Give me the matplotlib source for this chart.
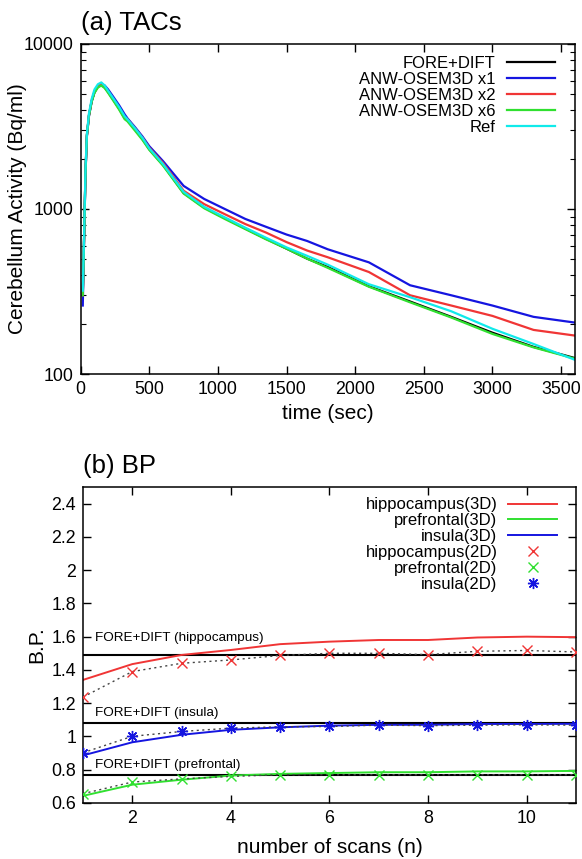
import numpy as np
import matplotlib
matplotlib.use("Agg")
import matplotlib.pyplot as plt
from matplotlib.lines import Line2D
from matplotlib.ticker import FixedLocator, FixedFormatter, NullFormatter, LogLocator

plt.rcParams["font.family"] = ["Liberation Sans", "DejaVu Sans"]

# ---- (a) TACs data ----
t_sec = [15, 25, 35, 45, 60, 80, 100, 125, 150, 175, 200, 240, 280, 320, 340,
         400, 450, 500, 600, 750, 900, 1050, 1200, 1350, 1500, 1650, 1800,
         2100, 2400, 2700, 3000, 3300, 3600]
tac_fore_dift = [300, 700, 1700, 2800, 3700, 4500, 5100, 5500, 5650, 5450, 5100,
                 4550, 4050, 3550, 3450, 3000, 2650, 2300, 1850, 1250, 1020, 880,
                 760, 660, 575, 500, 445, 340, 275, 222, 178, 146, 125]
tac_osem_x1 = [260, 680, 1650, 2750, 3650, 4500, 5100, 5550, 5750, 5600, 5300,
               4750, 4250, 3750, 3550, 3100, 2750, 2400, 1950, 1380, 1150, 1000,
               870, 780, 700, 640, 570, 475, 345, 300, 260, 222, 205]
tac_osem_x2 = [300, 700, 1700, 2800, 3700, 4550, 5150, 5550, 5700, 5500, 5150,
               4600, 4100, 3600, 3500, 3050, 2700, 2350, 1900, 1290, 1070, 930,
               810, 720, 630, 560, 510, 415, 300, 260, 225, 185, 171]
tac_osem_x6 = [300, 690, 1680, 2780, 3680, 4480, 5050, 5450, 5600, 5400, 5050,
               4500, 4000, 3500, 3400, 2950, 2620, 2280, 1830, 1240, 1010, 870,
               755, 655, 575, 500, 440, 338, 272, 220, 175, 145, 124]
tac_ref = [320, 720, 1750, 2850, 3800, 4650, 5300, 5700, 5850, 5600, 5200,
           4650, 4150, 3650, 3500, 3050, 2700, 2330, 1870, 1270, 1030, 890,
           770, 670, 585, 520, 460, 350, 292, 240, 188, 152, 122]

tac_series = [
    ("FORE+DIFT", tac_fore_dift, "#000000"),
    ("ANW-OSEM3D x1", tac_osem_x1, "#1515e0"),
    ("ANW-OSEM3D x2", tac_osem_x2, "#f03535"),
    ("ANW-OSEM3D x6", tac_osem_x6, "#30e030"),
    ("Ref", tac_ref, "#10eaea"),
]

# ---- (b) BP data ----
n_scans = [1, 2, 3, 4, 5, 6, 7, 8, 9, 10, 11]
hippo_3d = [1.34, 1.435, 1.49, 1.52, 1.555, 1.57, 1.58, 1.58, 1.595, 1.60, 1.597]
prefr_3d = [0.643, 0.71, 0.74, 0.765, 0.775, 0.78, 0.785, 0.785, 0.79, 0.79, 0.793]
insula_3d = [0.886, 0.965, 1.01, 1.04, 1.055, 1.065, 1.07, 1.07, 1.075, 1.075, 1.076]
hippo_2d = [1.237, 1.39, 1.44, 1.46, 1.487, 1.50, 1.50, 1.492, 1.512, 1.517, 1.508]
prefr_2d = [0.656, 0.726, 0.745, 0.76, 0.77, 0.77, 0.77, 0.77, 0.77, 0.77, 0.77]
insula_2d = [0.902, 1.001, 1.03, 1.05, 1.058, 1.06, 1.068, 1.065, 1.068, 1.07, 1.068]

fore_dift_bp = {"hippocampus": 1.489, "insula": 1.081, "prefrontal": 0.770}

red, green, blue = "#f03535", "#30e030", "#1515e0"
asterisk = (8, 2, 0)

fig = plt.figure(figsize=(5.82, 8.59), dpi=100)
ax0 = fig.add_axes([0.1387, 0.5646, 0.8488, 0.3842])
ax1 = fig.add_axes([0.1426, 0.0652, 0.8471, 0.3679])

# ---------- (a) ----------
for name, vals, col in tac_series:
    ax0.plot(t_sec, vals, color=col, lw=1.6, label=name)
ax0.set_yscale("log")
ax0.set_xlim(0, 3600)
ax0.set_ylim(100, 10000)
ax0.xaxis.set_major_locator(FixedLocator(range(0, 3600, 500)))
ax0.yaxis.set_major_locator(FixedLocator([100, 1000, 10000]))
ax0.yaxis.set_major_formatter(FixedFormatter(["100", "1000", "10000"]))
ax0.yaxis.set_minor_locator(LogLocator(base=10, subs=np.arange(2, 10)))
ax0.yaxis.set_minor_formatter(NullFormatter())
ax0.set_xlabel("time (sec)", fontsize=15, labelpad=4)
ax0.set_ylabel("Cerebellum Activity (Bq/ml)", fontsize=15)
ax0.yaxis.label.set_va("center")
ax0.yaxis.set_label_coords(-0.127, 0.5)
ax0.set_title("(a) TACs", loc="left", fontsize=18.5, pad=10)
ax0.legend(loc="upper right", bbox_to_anchor=(0.96, 0.964), frameon=False,
           markerfirst=False, fontsize=12, handlelength=2.9, handletextpad=0.65,
           labelspacing=0.06, borderpad=0, borderaxespad=0)

# ---------- (b) ----------
for key, yv in fore_dift_bp.items():
    ax1.axhline(yv, color="black", lw=1.5, zorder=1)
ax1.text(1.24, 1.593, "FORE+DIFT (hippocampus)", fontsize=9.7, va="center")
ax1.text(1.24, 1.139, "FORE+DIFT (insula)", fontsize=9.7, va="center")
ax1.text(1.24, 0.83, "FORE+DIFT (prefrontal)", fontsize=9.7, va="center")

ax1.plot(n_scans, hippo_3d, color=red, lw=1.4, label="hippocampus(3D)")
ax1.plot(n_scans, prefr_3d, color=green, lw=1.4, label="prefrontal(3D)")
ax1.plot(n_scans, insula_3d, color=blue, lw=1.4, label="insula(3D)")
for yv in (hippo_2d, prefr_2d, insula_2d):
    ax1.plot(n_scans, yv, color="#444444", lw=1.0, ls=(0, (1.5, 2.5)), zorder=2)
ax1.plot(n_scans, hippo_2d, ls="none", marker="x", ms=7, mew=1.0, color=red, zorder=3)
ax1.plot(n_scans, prefr_2d, ls="none", marker="x", ms=7, mew=1.0, color=green, zorder=3)
ax1.plot(n_scans, insula_2d, ls="none", marker=asterisk, ms=8, mew=1.0, color=blue, zorder=3)

handles = [
    Line2D([], [], color=red, lw=1.4),
    Line2D([], [], color=green, lw=1.4),
    Line2D([], [], color=blue, lw=1.4),
    Line2D([], [], ls="none", marker="x", ms=7, mew=1.0, color=red),
    Line2D([], [], ls="none", marker="x", ms=7, mew=1.0, color=green),
    Line2D([], [], ls="none", marker=asterisk, ms=8, mew=1.0, color=blue),
]
labels = ["hippocampus(3D)", "prefrontal(3D)", "insula(3D)",
          "hippocampus(2D)", "prefrontal(2D)", "insula(2D)"]
ax1.legend(handles, labels, loc="upper right", bbox_to_anchor=(0.961, 0.967),
           frameon=False, markerfirst=False, fontsize=12, handlelength=2.9,
           handletextpad=0.65, labelspacing=0.05, borderpad=0, borderaxespad=0)

ax1.set_xlim(1, 11)
ax1.set_ylim(0.6, 2.5)
ax1.xaxis.set_major_locator(FixedLocator([2, 4, 6, 8, 10]))
ax1.yaxis.set_major_locator(FixedLocator(np.round(np.arange(0.6, 2.41, 0.2), 1)))
ax1.yaxis.set_major_formatter(FixedFormatter(["0.6", "0.8", "1", "1.2", "1.4", "1.6",
                                              "1.8", "2", "2.2", "2.4"]))
ax1.set_xlabel("number of scans (n)", fontsize=15, labelpad=8)
ax1.set_ylabel("B.P.", fontsize=15)
ax1.yaxis.label.set_va("center")
ax1.yaxis.set_label_coords(-0.093, 0.5)
ax1.set_title("(b) BP", loc="left", fontsize=18.5, pad=10)

for ax in (ax0, ax1):
    ax.tick_params(which="major", direction="in", length=6, width=1,
                   top=True, right=True, labelsize=12.8, pad=5)
    ax.tick_params(which="minor", direction="in", length=3.5, width=0.8,
                   top=True, right=True)
    for s in ax.spines.values():
        s.set_linewidth(1.1)

fig.savefig("out.png", dpi=100)
